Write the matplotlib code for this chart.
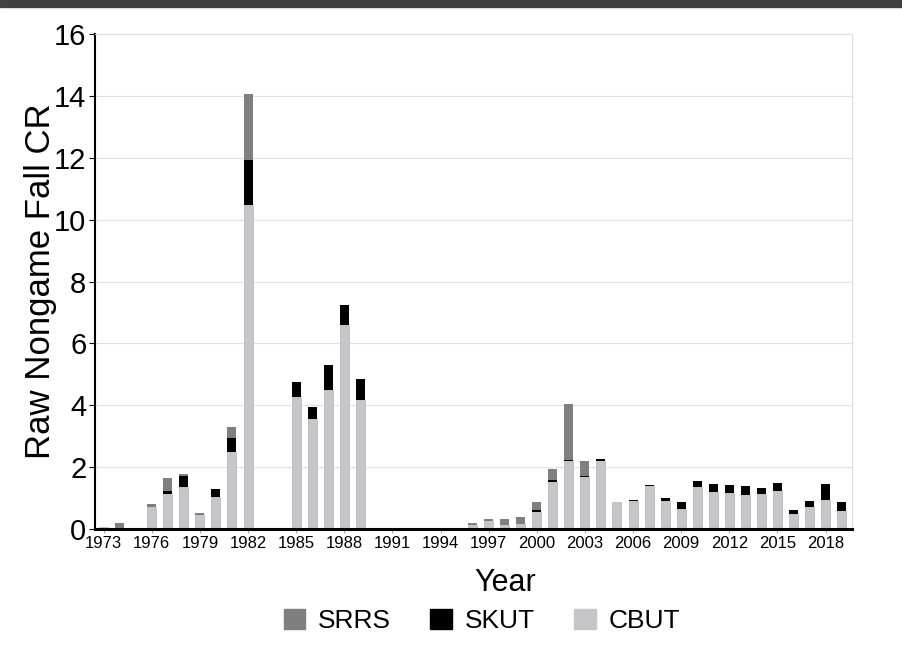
import numpy as np
import matplotlib
matplotlib.use( "Agg" )
import matplotlib.pyplot as plt
from matplotlib.patches import Rectangle, Patch

plt.rcParams['font.family'] = ['Liberation Sans', 'DejaVu Sans']

#Data (1973 - 2019)
years = list( range( 1973, 2020 ) )

cbut = [ 0.07, 0, 0, 0.72, 1.13, 1.34, 0.46, 1.04, 2.49, 10.48,
         0, 0,
         4.27, 3.55, 4.48, 6.58, 4.18,
         0, 0, 0, 0, 0, 0,
         0.14, 0.25, 0.11, 0.16, 0.55, 1.53, 2.18, 1.67, 2.2, 0.87,
         0.91, 1.38, 0.91, 0.65, 1.34, 1.18, 1.15, 1.1, 1.13, 1.24,
         0.47, 0.7, 0.94, 0.58 ]

skut = [ 0, 0, 0, 0, 0.08, 0.38, 0, 0.25, 0.45, 1.46,
         0, 0,
         0.47, 0.4, 0.83, 0.66, 0.68,
         0, 0, 0, 0, 0, 0,
         0, 0, 0, 0, 0.06, 0.05, 0.04, 0.04, 0.05, 0,
         0.04, 0.03, 0.09, 0.22, 0.22, 0.26, 0.26, 0.28, 0.18, 0.24,
         0.15, 0.2, 0.5, 0.29 ]

srrs = [ 0, 0.2, 0, 0.1, 0.43, 0.05, 0.04, 0, 0.35, 2.12,
         0, 0,
         0, 0, 0, 0, 0,
         0, 0, 0, 0, 0, 0,
         0.04, 0.08, 0.21, 0.21, 0.26, 0.35, 1.83, 0.5, 0, 0,
         0, 0, 0, 0, 0, 0, 0, 0, 0, 0,
         0, 0, 0, 0 ]

tick_years = list( range( 1973, 2019, 3 ) )

c_srrs = '#7f7f7f'
c_skut = '#000000'
c_cbut = '#c6c6ca'

fig = plt.figure( figsize = ( 9.03, 6.57 ), dpi = 100 )
ax = fig.add_axes( [ 0.105, 0.195, 0.8385, 0.753 ] )

#dark band on top of the picture
fig.patches.append( Rectangle( ( 0, 1 - 7 / 657 ), 1, 7 / 657, transform = fig.transFigure,
                               color = '#404040', zorder = 0 ) )

x = np.array( years )
c = np.array( cbut )
k = np.array( skut )
s = np.array( srrs )
w = 0.56

ax.bar( x, c, width = w, color = c_cbut, edgecolor = '#a8a8ac', linewidth = 0.4, zorder = 3 )
ax.bar( x, k, width = w, bottom = c, color = c_skut, linewidth = 0, zorder = 3 )
ax.bar( x, s, width = w, bottom = c + k, color = c_srrs, linewidth = 0, zorder = 3 )

ax.set_xlim( 1972.45, 2019.65 )
ax.set_ylim( 0, 16 )
ax.set_yticks( range( 0, 17, 2 ) )
ax.set_xticks( tick_years )
ax.set_xticklabels( [ str( t ) for t in tick_years ], fontsize = 12 )
ax.tick_params( axis = 'y', labelsize = 21, length = 4, width = 0.8, pad = 2 )
ax.tick_params( axis = 'x', length = 3, width = 0.6, color = '#999999', pad = 2 )

ax.grid( axis = 'y', color = '#e2e2e2', linewidth = 0.8, zorder = 0 )
ax.set_axisbelow( True )

ax.spines['left'].set_linewidth( 1.5 )
ax.spines['left'].set_color( 'black' )
ax.spines['bottom'].set_linewidth( 2.2 )
ax.spines['bottom'].set_color( 'black' )
ax.spines['bottom'].set_zorder( 4 )
ax.spines['top'].set_color( '#dcdcdc' )
ax.spines['right'].set_color( '#dcdcdc' )

ax.set_ylabel( 'Raw Nongame Fall CR', fontsize = 25 )
ax.yaxis.set_label_coords( -0.050, 0.5 )
fig.text( 505 / 903, 1 - 583 / 657, 'Year', fontsize = 22, ha = 'center', va = 'center' )

handles = [ Patch( color = c_srrs, label = 'SRRS' ),
            Patch( color = c_skut, label = 'SKUT' ),
            Patch( color = c_cbut, label = 'CBUT' ) ]
fig.legend( handles = handles, loc = 'center', bbox_to_anchor = ( 482 / 903, 1 - 621 / 657 ),
            ncol = 3, frameon = False, fontsize = 19, handlelength = 0.8, handleheight = 0.8,
            handletextpad = 0.5, columnspacing = 1.5 )

plt.savefig( 'out.png', dpi = 100 )
